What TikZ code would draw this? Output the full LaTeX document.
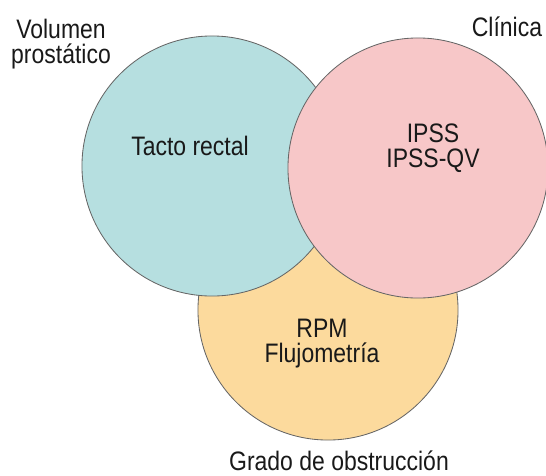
\documentclass[tikz,border=0pt]{standalone}
\usepackage{fontspec}
\setmainfont{Liberation Sans}[FakeStretch=0.86]
\usepackage{tikz}
\usetikzlibrary{positioning}

\definecolor{volcol}{RGB}{182,223,224}
\definecolor{clicol}{RGB}{247,199,200}
\definecolor{obscol}{RGB}{252,218,157}

\begin{document}
\begin{tikzpicture}[
  x=0.025cm, y=-0.025cm,
  every node/.style={font=\fontsize{19}{17.5}\selectfont, text=black!90, align=center, inner sep=0pt},
  setcirc/.style={draw=black!60, line width=0.6pt, circle, minimum size=6.5cm}
]
  \useasboundingbox (0,0) rectangle (546,475);
  % the three sets, back to front
  \foreach \name/\x/\y/\col in {obs/328/310/obscol, vol/212/166/volcol, cli/418/168/clicol} {
    \node[setcirc, fill=\col] (\name) at (\x,\y) {};
  }
  \node[anchor=base] (tacto) at (190,155) {Tacto rectal};
  \node[anchor=base] (ipss) at (433,167) {IPSS\\IPSS-QV};
  \node[anchor=base] (rpm) at (322,362) {RPM\\Flujometría};
  % set names
  \node[anchor=base] (volumen) at (61,63) {Volumen\\prostático};
  \node[anchor=base] (clinica) at (507,36) {Clínica};
  \node[anchor=base] (grado) at (339,470) {Grado de obstrucción};
\end{tikzpicture}
\end{document}
